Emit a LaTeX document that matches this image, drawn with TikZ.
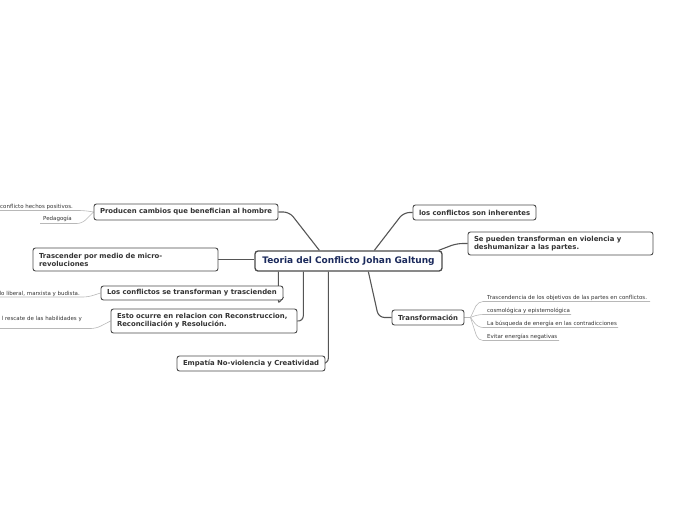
\documentclass[tikz,border=0pt]{standalone}
\usepackage{fontspec}
\setmainfont{DejaVu Sans}
\usetikzlibrary{calc,backgrounds}
\definecolor{navy}{HTML}{1B2A5C}
\definecolor{boxgray}{HTML}{4A4A4A}
\definecolor{linegray}{HTML}{555555}
\definecolor{leafline}{HTML}{B8B8B8}
\definecolor{leaftext}{HTML}{333333}
\tikzset{
  subbox/.style={draw=boxgray, line width=0.9pt, rounded corners=2.5pt, fill=white,
    font=\bfseries\fontsize{6.9}{8}\selectfont, text=leaftext, inner xsep=6pt, inner ysep=0pt, align=left},
  mainbox/.style={draw=boxgray, line width=1.3pt, rounded corners=3pt, fill=white,
    font=\bfseries\fontsize{9}{10}\selectfont, text=navy, inner xsep=4pt, inner ysep=0pt, align=center},
  leaf/.style={font=\fontsize{5.5}{6}\selectfont, text=leaftext, inner sep=0pt},
  conn/.style={draw=linegray, line width=1.1pt, rounded corners=6pt},
  leafconn/.style={draw=leafline, line width=0.6pt, rounded corners=5pt},
}
\begin{document}
\begin{tikzpicture}[x=1pt,y=-1pt]
\useasboundingbox (0,0) rectangle (696,520);
% central
\node[mainbox, minimum width=187pt, minimum height=20pt] (c) at (348.5,261) {Teoria del Conflicto Johan Galtung};
% subnodes
\node[subbox, text width=172pt, minimum height=16pt] (p) at (186,212) {\mbox{Producen cambios que benefician al hombre}};
\node[subbox, text width=111pt, minimum height=15pt] (i) at (474.5,212.5) {\mbox{los conflictos son inherentes}};
\node[subbox, text width=173pt, minimum height=23pt] (s) at (560.5,243.5) {\mbox{Se pueden transforman en violencia y}\\\mbox{deshumanizar a las partes.}};
\node[subbox, text width=173pt, minimum height=23pt] (t) at (125.5,259.5) {\mbox{Trascender por medio de micro-}\\\mbox{revoluciones}};
\node[subbox, text width=170pt, minimum height=14pt] (l) at (192,293) {\mbox{Los conflictos se transforman y trascienden}};
\node[subbox, text width=174pt, minimum height=24pt] (e) at (204,321) {\mbox{Esto ocurre en relacion con Reconstruccion,}\\\mbox{Reconciliación y Resolución.}};
\node[subbox, text width=136pt, minimum height=15pt] (m) at (251,363.5) {\mbox{Empatía No-violencia y Creatividad}};
\node[subbox, text width=60pt, minimum height=15pt] (tr) at (428,317.5) {\mbox{Transformación}};
% leaves left
\node[leaf, anchor=base west] (a1) at (0,208) {conflicto hechos positivos.};
\node[leaf, anchor=base west] (a2) at (43,220.5) {Pedagogía};
\node[leaf, anchor=base east] (a3) at (80,295) {lo liberal, marxista y budista.};
\node[leaf, anchor=base east] (a4) at (82,320) {l rescate de las habilidades y};
% leaves right
\node[leaf, anchor=base west] (b1) at (487,299.5) {Trascendencia de los objetivos de las partes en conflictos.};
\node[leaf, anchor=base west] (b2) at (487,312.5) {cosmológica y epistemológica};
\node[leaf, anchor=base west] (b3) at (487,325.5) {La búsqueda de energía en las contradicciones};
\node[leaf, anchor=base west] (b4) at (487,338.5) {Evitar energías negativas};
\begin{scope}[on background layer]
% main connectors
\draw[conn] ($(c.north west)+(65,0)$) -- ($(p.east)+(11,0)$) -- (p.east);
\draw[conn] ($(c.north west)+(120,0)$) -- ($(i.west)+(-9,0)$) -- (i.west);
\draw[conn] ($(c.north east)+(-4,0)$) -- ($(s.west)+(-11,0)$) -- (s.west);
\draw[conn] (t.east) -- (t.east -| c.west);
\draw[conn, rounded corners=3pt] ($(c.south west)+(24,0)$) -- ($(c.south west)+(24,32)$) -- ($(l.east)+(0,4)$);
\draw[conn] ($(c.south west)+(49,0)$) -- ($(c.south west)+(49,50)$) -- (e.east);
\draw[conn] ($(c.south west)+(74,0)$) -- ($(c.south west)+(74,92.5)$) -- (m.east);
\draw[conn] ($(c.south west)+(114,0)$) -- ($(tr.west)+(-13,0)$) -- (tr.west);
% leaf connectors left
\draw[leafconn] (0,210.5) -- (84,210.5) -- (p.west);
\draw[leafconn] (40,223.5) -- (82,223.5) -- (p.west);
\draw[leafconn] (0,297) -- (88,297) -- (l.west);
\draw[leafconn] (0,328.5) -- (96,328.5) -- (e.west);
% leaf connectors right
\coordinate (tj) at ($(tr.east)+(6,0)$);
\draw[leafconn] (tr.east) -- (tj);
\draw[leafconn] (tj) -- (478,301.5) -- (650,301.5);
\draw[leafconn] (tj) -- (478,314.5) -- (571,314.5);
\draw[leafconn] (tj) -- (478,327.5) -- (618,327.5);
\draw[leafconn] (tj) -- (478,340.5) -- (559,340.5);
\end{scope}
\end{tikzpicture}
\end{document}
